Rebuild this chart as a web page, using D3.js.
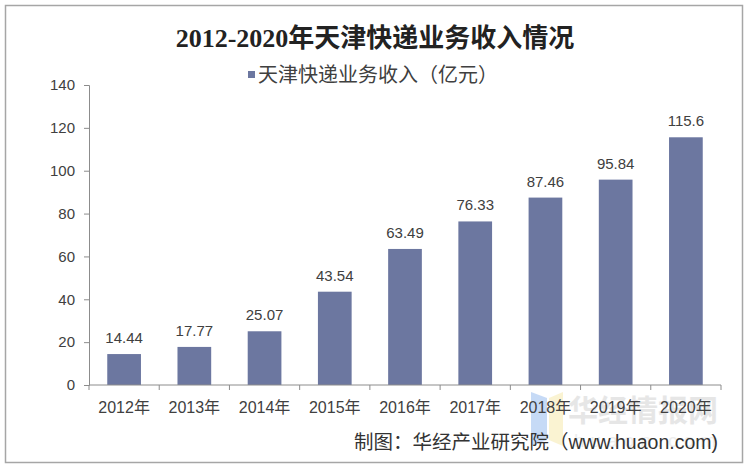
<!DOCTYPE html>
<html>
<head>
<meta charset="utf-8">
<script src="https://cdn.jsdelivr.net/npm/d3@7"></script>
<style>
body{margin:0;background:#fff;}
svg{display:block;}
</style>
</head>
<body>
<script>
// data
var years = ["2012年","2013年","2014年","2015年","2016年","2017年","2018年","2019年","2020年"];
var revenue = [14.44, 17.77, 25.07, 43.54, 63.49, 76.33, 87.46, 95.84, 115.6];
var revenueLabels = ["14.44","17.77","25.07","43.54","63.49","76.33","87.46","95.84","115.6"];
var yTicks = [0, 20, 40, 60, 80, 100, 120, 140];

var W = 750, H = 469;
var svg = d3.select("body").append("svg").attr("width", W).attr("height", H);

var font = "Arial, 'Liberation Sans', 'Noto Sans CJK SC', sans-serif";

// outer frame
svg.append("rect").attr("x", 5.5).attr("y", 5.5).attr("width", 737).attr("height", 457)
  .attr("fill", "#fff").attr("stroke", "#a6a6a6").attr("stroke-width", 1.5);

var x = d3.scaleBand().domain(years).range([89, 721]).paddingInner(0.52).paddingOuter(0.26);
var y = d3.scaleLinear().domain([0, 140]).range([385, 85]);

// watermark
var wm = svg.append("g").attr("opacity", 0.5);
wm.append("path").attr("d", "M531,392 L547,398 L547,440 L531,446 Z").attr("fill", "#8fb6ee");
wm.append("path").attr("d", "M549,398 L563,392 L563,446 L549,440 Z").attr("fill", "#f6e9a6");
wm.append("text").attr("x", 568).attr("y", 421).attr("font-family", "'Noto Sans CJK SC', sans-serif")
  .attr("font-size", 30).attr("font-weight", "bold").attr("fill", "#cfcfcf").text("华经情报网");
wm.append("text").attr("x", 574).attr("y", 447).attr("font-family", font)
  .attr("font-size", 19).attr("letter-spacing", 6).attr("fill", "#dcdcdc").text("huaon.com");

// bars
svg.selectAll("rect.bar").data(revenue).enter().append("rect")
  .attr("class", "bar")
  .attr("x", function(d, i){ return x(years[i]); })
  .attr("y", function(d){ return y(d); })
  .attr("width", x.bandwidth())
  .attr("height", function(d){ return y(0) - y(d); })
  .attr("fill", "#6c77a0");

// value labels
svg.selectAll("text.val").data(revenue).enter().append("text")
  .attr("class", "val")
  .attr("x", function(d, i){ return x(years[i]) + x.bandwidth() / 2; })
  .attr("y", function(d){ return y(d) - 11; })
  .attr("text-anchor", "middle")
  .attr("font-family", font).attr("font-size", 15).attr("fill", "#404040")
  .text(function(d, i){ return revenueLabels[i]; });

// y axis
var yAxis = svg.append("g").attr("transform", "translate(89,0)")
  .call(d3.axisLeft(y).tickValues(yTicks).tickSize(5).tickPadding(9));
yAxis.select(".domain").attr("stroke", "#8c8c8c");
yAxis.selectAll(".tick line").attr("stroke", "#8c8c8c");
yAxis.selectAll(".tick text").attr("font-family", font).attr("font-size", 15).attr("fill", "#404040");

// x axis, ticks between categories
var xAxis = svg.append("g").attr("transform", "translate(0,385)");
xAxis.append("line").attr("x1", 89).attr("x2", 721).attr("stroke", "#8c8c8c");
var bounds = d3.range(years.length + 1).map(function(i){ return 89 + i * (632 / years.length); });
xAxis.selectAll("line.tk").data(bounds).enter().append("line")
  .attr("class", "tk").attr("x1", function(d){ return d; }).attr("x2", function(d){ return d; })
  .attr("y1", 0).attr("y2", 5).attr("stroke", "#8c8c8c");
xAxis.selectAll("text").data(years).enter().append("text")
  .attr("x", function(d){ return x(d) + x.bandwidth() / 2; })
  .attr("y", 28)
  .attr("text-anchor", "middle")
  .attr("font-family", font).attr("font-size", 16).attr("fill", "#404040")
  .text(function(d){ return d; });

// title
svg.append("text").attr("x", 375).attr("y", 47).attr("text-anchor", "middle")
  .attr("font-family", "'Liberation Serif', 'Noto Sans CJK SC', serif")
  .attr("font-size", 26).attr("font-weight", "bold").attr("fill", "#222")
  .text("2012-2020年天津快递业务收入情况");

// legend
svg.append("rect").attr("x", 248).attr("y", 71).attr("width", 7).attr("height", 7).attr("fill", "#6c77a0");
svg.append("text").attr("x", 258).attr("y", 82)
  .attr("font-family", font).attr("font-size", 20).attr("fill", "#404040")
  .text("天津快递业务收入（亿元）");

// source
svg.append("text").attr("x", 718).attr("y", 449).attr("text-anchor", "end")
  .attr("font-family", font).attr("font-size", 19.5).attr("fill", "#333")
  .text("制图：华经产业研究院（www.huaon.com)");
</script>
</body>
</html>
